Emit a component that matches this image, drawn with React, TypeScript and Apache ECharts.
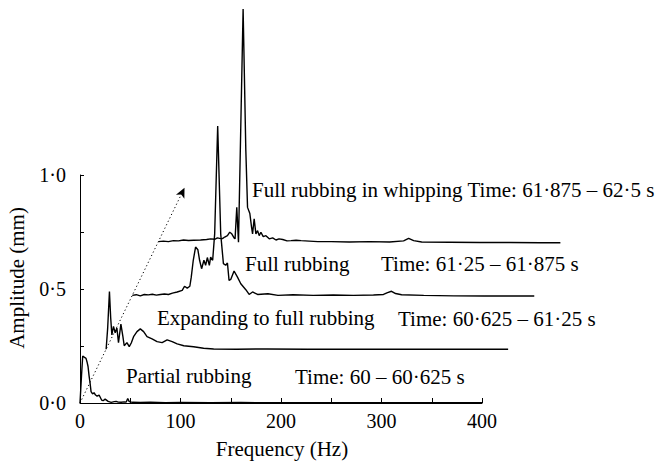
import React, { useEffect, useRef } from "react";
import * as echarts from "echarts";

// Each successive spectrum is shifted right and up to build the waterfall.
const OFFSET_HZ = 26;
const OFFSET_MM = 0.236;

// Partial rubbing, 60 – 60·625 s
const partialFreq = [0, 1.5, 2.7, 4.5, 6, 7, 8, 9, 10, 11, 12.5, 14, 15.5, 17, 19, 21.5, 23, 25, 28, 31, 34, 36, 38, 41, 44, 46, 47.5, 49, 52, 60, 70, 85, 100, 130, 160, 200, 250, 300, 350, 400];
const partialAmp = [0, 0.12, 0.206, 0.2, 0.196, 0.18, 0.16, 0.12, 0.088, 0.05, 0.04, 0.045, 0.035, 0.03, 0.035, 0.013, 0.01, 0.017, 0.007, 0.003, 0.006, 0.007, 0.004, 0.003, 0.005, 0.004, 0.02, 0.006, 0.003, 0.002, 0.003, 0.001, 0.002, 0.001, 0.002, 0.001, 0.001, 0.001, 0.001, 0.001];

// Expanding to full rubbing, 60·625 – 61·25 s
const expandingFreq = [0, 1.5, 3.3, 4.5, 5.7, 7.3, 9, 10.7, 12.3, 14.7, 16.7, 18, 20.7, 23, 25, 27.3, 30.7, 34, 37.3, 40.7, 45.7, 50.7, 55.7, 60.7, 65.7, 70.7, 77.3, 87, 97, 107, 130, 160, 200, 250, 300, 350, 400];
const expandingAmp = [0, 0.09, 0.253, 0.14, 0.063, 0.1, 0.072, 0.093, 0.029, 0.11, 0.055, 0.015, 0.029, 0.011, 0.027, 0.055, 0.077, 0.089, 0.077, 0.055, 0.045, 0.033, 0.029, 0.041, 0.033, 0.023, 0.015, 0.011, 0.004, 0.001, 0, 0.001, 0, 0, 0, 0, 0];

// Full rubbing, 61·25 – 61·875 s
const fullFreq = [0, 4, 8, 12, 16, 20, 24, 28, 32, 36, 40, 44.7, 49.7, 52, 54.7, 57.3, 58.7, 60.7, 63, 65.3, 67, 69, 71.3, 73, 74.7, 76.7, 78, 80, 82, 85, 88, 90.7, 93, 94.7, 96.3, 98, 101.3, 104.7, 108, 113, 116.3, 119.7, 124.7, 135, 145, 160, 180, 200, 220, 240, 250, 254, 258, 262, 268, 290, 320, 350, 380, 400];
const fullAmp = [0, 0.003, -0.002, 0.004, 0.002, 0.005, 0.001, 0.004, 0.006, 0.004, 0.01, 0.015, 0.022, 0.04, 0.032, 0.04, 0.08, 0.154, 0.212, 0.2, 0.154, 0.117, 0.154, 0.132, 0.166, 0.132, 0.168, 0.154, 0.27, 0.743, 0.27, 0.139, 0.132, 0.142, 0.066, 0.07, 0.107, 0.08, 0.051, 0.025, 0.004, 0.015, 0.004, 0.007, 0, 0.003, 0, 0.002, 0, 0.002, 0.004, 0.012, 0.018, 0.008, 0.003, 0, -0.002, -0.003, -0.003, -0.003];

// Full rubbing in whipping, 61·875 – 62·5 s
const whippingFreq = [0, 5, 10, 15, 20, 25, 30, 35, 42, 48, 52, 56, 58.7, 61, 63.7, 66, 68.7, 71, 73, 75.3, 76.3, 78, 79.7, 84.3, 87, 88.7, 91, 92.7, 93.7, 95.3, 97, 98.7, 100.3, 102, 104.3, 107, 110.3, 113.7, 117, 120, 123.7, 128, 132, 137, 142, 150, 158.7, 172, 190, 210, 230, 244, 249, 254, 262, 290, 320, 350, 380, 400];
const whippingAmp = [0, 0.002, 0, 0.004, 0.003, 0.007, 0.005, 0.006, 0.007, 0.009, 0.012, 0.01, 0.016, 0.014, 0.013, 0.02, 0.026, 0.041, 0.034, 0.016, 0.012, 0.15, -0.003, 1.02, 0.4, 0.15, 0.123, 0.063, 0.034, 0.1, 0.034, 0.048, 0.026, 0.041, 0.022, 0.026, 0.012, 0.016, 0.007, 0.012, 0.009, 0.003, 0.004, 0.006, 0.004, 0.002, 0, 0, -0.002, 0, -0.002, 0.003, 0.014, 0.004, -0.002, -0.003, -0.004, -0.004, -0.005, -0.005];

const xTickLabels = [0, 100, 200, 300, 400];
const yTickLabels = [0, 0.5, 1];

const stageNames = ["Partial rubbing", "Expanding to full rubbing", "Full rubbing", "Full rubbing in whipping"];
const timeRanges = ["Time: 60 \u2013 60\u00b7625 s", "Time: 60\u00b7625 \u2013 61\u00b725 s", "Time: 61\u00b725 \u2013 61\u00b7875 s", "Time: 61\u00b7875 \u2013 62\u00b75 s"];

const FONT = "Liberation Serif";

function shifted(freq: number[], amp: number[], k: number) {
  return freq.map((f, i) => [f + k * OFFSET_HZ, amp[i] + k * OFFSET_MM]);
}

function text(str: string, x: number, y: number, extra: any = {}) {
  return {
    type: "text",
    x,
    y,
    silent: true,
    ...extra,
    style: {
      text: str,
      fill: "#000",
      fontFamily: FONT,
      fontSize: 21,
      textAlign: "left",
      textVerticalAlign: "middle",
      ...(extra.style || {}),
    },
  };
}

export default function App() {
  const ref = useRef<HTMLDivElement>(null);

  useEffect(() => {
    if (!ref.current) return;
    const chart = echarts.init(ref.current, undefined, { renderer: "svg" });

    const spectra = [
      shifted(partialFreq, partialAmp, 0),
      shifted(expandingFreq, expandingAmp, 1),
      shifted(fullFreq, fullAmp, 2),
      shifted(whippingFreq, whippingAmp, 3),
    ];

    const axisText = { color: "#000", fontFamily: FONT, fontSize: 20 };
    const blackLine = { color: "#000", width: 1 };

    const series: any[] = spectra.map((data) => ({
      type: "line",
      xAxisIndex: 1,
      yAxisIndex: 1,
      data,
      symbol: "none",
      silent: true,
      lineStyle: { color: "#000", width: 1.4 },
      z: 3,
    }));

    // Dotted arrow tracing the successive time shifts
    series[0].markLine = {
      silent: true,
      symbol: ["none", "arrow"],
      symbolSize: [7, 10],
      label: { show: false },
      lineStyle: { color: "#000", width: 1, type: [1.2, 2.6] },
      data: [[{ coord: [0, 0] }, { coord: [4 * OFFSET_HZ, 4 * OFFSET_MM] }]],
    };

    chart.setOption({
      animation: false,
      backgroundColor: "#fff",
      textStyle: { fontFamily: FONT },
      grid: [
        { left: 80, top: 175, width: 402, height: 228 },
        { left: 80, top: 4, width: 502.5, height: 399 },
      ],
      xAxis: [
        {
          type: "value",
          gridIndex: 0,
          min: 0,
          max: 400,
          interval: 50,
          axisLine: { lineStyle: blackLine },
          axisTick: { inside: true, length: 5, lineStyle: blackLine },
          splitLine: { show: false },
          axisLabel: {
            ...axisText,
            margin: 8,
            formatter: (v: number) => (xTickLabels.includes(v) ? String(v) : ""),
          },
        },
        { type: "value", gridIndex: 1, min: 0, max: 500, show: false },
      ],
      yAxis: [
        {
          type: "value",
          gridIndex: 0,
          min: 0,
          max: 1,
          interval: 0.25,
          axisLine: { lineStyle: blackLine },
          axisTick: { inside: true, length: 4, lineStyle: blackLine },
          splitLine: { show: false },
          axisLabel: {
            ...axisText,
            margin: 14,
            formatter: (v: number) =>
              yTickLabels.some((t) => Math.abs(t - v) < 1e-9) ? v.toFixed(1).replace(".", "\u00b7") : "",
          },
        },
        { type: "value", gridIndex: 1, min: 0, max: 1.75, show: false },
      ],
      series,
      graphic: [
        text("Frequency (Hz)", 282, 449, { style: { textAlign: "center" } }),
        text("Amplitude (mm)", 17, 278, { rotation: Math.PI / 2, style: { textAlign: "center" } }),
        text(stageNames[0], 126, 376),
        text(timeRanges[0], 295, 377),
        text(stageNames[1], 157, 318),
        text(timeRanges[1], 398, 319),
        text(stageNames[2], 245, 264),
        text(timeRanges[2], 381, 264),
        text(`${stageNames[3]} ${timeRanges[3]}`, 252, 190),
      ],
    });

    return () => chart.dispose();
  }, []);

  return (
    <div
      ref={ref}
      style={{ position: "absolute", left: 0, top: 0, width: 658, height: 463, background: "#fff" }}
    />
  );
}
